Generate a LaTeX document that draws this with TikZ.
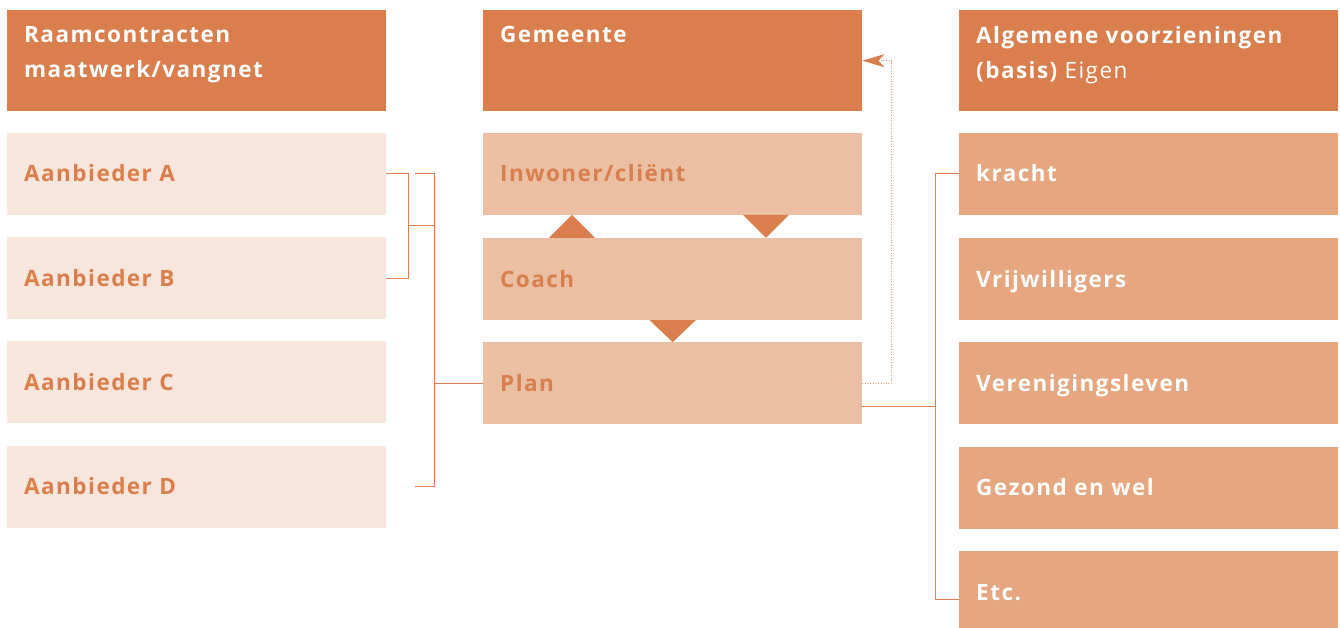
\documentclass[tikz,border=0pt]{standalone}
\usepackage{fontspec}
\setmainfont{Open Sans}[LetterSpace=6.5]
\usetikzlibrary{positioning,arrows.meta,calc}
\definecolor{kop}{HTML}{D97E4C}
\definecolor{licht}{HTML}{F8E5DB}
\definecolor{midden}{HTML}{EBBFA3}
\definecolor{rechts}{HTML}{E5A680}
\definecolor{stip}{HTML}{E09C74}
\newdimen\rijDist
\rijDist=22pt
\newcommand\kopTekst[1]{\parbox[t][68pt][t]{345pt}{#1}}

\begin{document}
\begin{tikzpicture}[
    x=1pt, y=-1pt,
    node distance=\rijDist,
    vak/.style={%
      anchor=north west,
      font=\fontsize{22.5}{35}\selectfont\bfseries,
      inner xsep=17pt,
      inner ysep=0pt,
    },
    kopvak/.style={vak, fill=kop, text=white, inner ysep=16.5pt},
    rijvak/.style={vak, text width=345pt, align=left, minimum height=82pt,
      text height=16pt, text depth=0pt},
    lichtvak/.style={rijvak, fill=licht, text=kop},
    middenvak/.style={rijvak, fill=midden, text=kop},
    rechtsvak/.style={rijvak, fill=rechts, text=white},
    lijn/.style={draw=kop, line width=1pt},
  ]
    \useasboundingbox (0,0) rectangle (1340,627);

    \node [kopvak] (raam) at (7,10) {\kopTekst{Raamcontracten\\maatwerk/vangnet}};
    \node [lichtvak, below=21pt of raam] (aanA) {Aanbieder A};
    \node [lichtvak, below=of aanA] (aanB) {Aanbieder B};
    \node [lichtvak, below=of aanB] (aanC) {Aanbieder C};
    \node [lichtvak, below=of aanC] (aanD) {Aanbieder D};

    \node [kopvak] (gem) at (483,10) {\kopTekst{Gemeente}};
    \node [middenvak, below=21pt of gem] (inwoner) {Inwoner/cliënt};
    \node [middenvak, below=23pt of inwoner] (coach) {Coach};
    \node [middenvak, below=of coach] (plan) {Plan};

    \node [kopvak] (alg) at (959,10) {\kopTekst{Algemene voorzieningen\\(basis) {\mdseries Eigen}}};
    \node [rechtsvak, below=21pt of alg] (kracht) {kracht};
    \node [rechtsvak, below=23pt of kracht] (vrij) {Vrijwilligers};
    \node [rechtsvak, below=of vrij] (ver) {Verenigingsleven};
    \node [rechtsvak, below=of ver] (gez) {Gezond en wel};
    \node [rechtsvak, below=of gez] (etc) {Etc.};

    \fill [kop] ([xshift=66pt]coach.north west) -- ++(46,0) -- ([xshift=89pt]inwoner.south west) -- cycle;
    \fill [kop] ([xshift=260pt]inwoner.south west) -- ++(46,0) -- ([xshift=283pt]coach.north west) -- cycle;
    \fill [kop] ([xshift=-23pt]coach.south) -- ([xshift=23pt]coach.south) -- (plan.north) -- cycle;

    \draw [lijn] (aanA.east) -- ++(22,0) coordinate (ab) |- (aanB.east);
    \coordinate (kam) at ([xshift=48pt]aanA.east);
    \draw [lijn] ([xshift=29pt]aanA.east) -- (kam) |- ([xshift=29pt]aanD.east);
    \coordinate (abm) at ($(ab)!0.5!(ab |- aanB.east)$);
    \draw [lijn] (abm) -- (abm -| kam);
    \draw [lijn] (plan.west) -- (plan.west -| kam);

    \draw [lijn] ([yshift=18pt]plan.south east) -- ++(73,0) coordinate (vork);
    \draw [lijn] (kracht.west) -| (vork) |- ([yshift=-7pt]etc.west);

    \draw [draw=stip, line width=1.2pt, dash pattern=on 1pt off 1.6pt,
      -{Stealth[length=22pt, width=13pt, inset=6pt, color=kop]}]
      (plan.east) -- ++(29,0) |- (gem.east);
\end{tikzpicture}
\end{document}
